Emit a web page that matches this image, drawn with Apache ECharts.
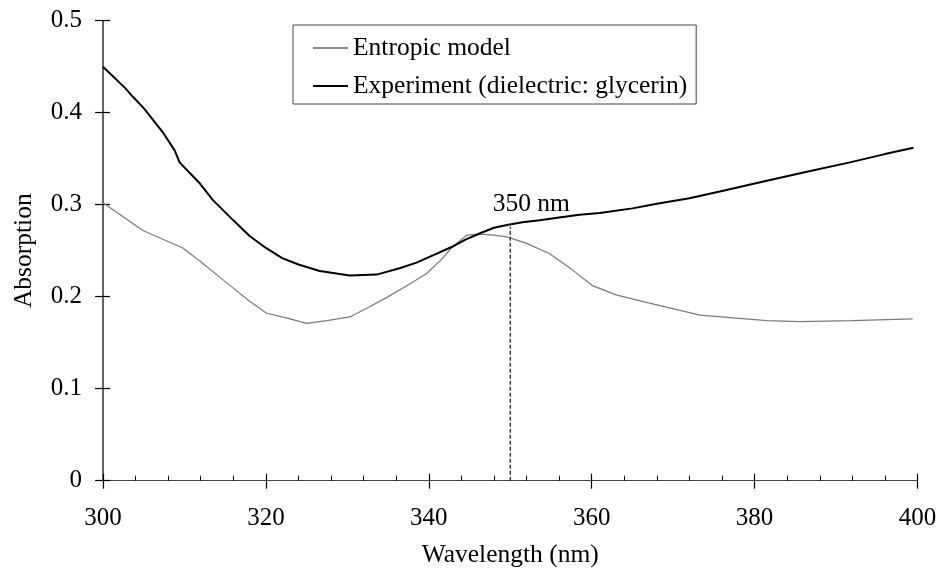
<!DOCTYPE html>
<html>
<head>
<meta charset="utf-8">
<script src="https://cdn.jsdelivr.net/npm/echarts@6/dist/echarts.min.js"></script>
<style>html,body{margin:0;padding:0;background:#fff}#c{width:941px;height:575px}</style>
</head>
<body>
<div id="c"></div>
<script>
// Wavelength (nm) / absorption pairs
var expX = [300, 302.7, 303.7, 305, 307.4, 308.8, 309.4, 311.9, 313.5, 316, 318, 320, 322, 324, 326.6, 330.3, 333.6, 336.4, 338.5, 340.5, 342.8, 344.5, 346.3, 348, 349.6, 351.5, 353.6, 356, 358.5, 361, 365, 368, 372, 376, 381.5, 386, 391.7, 396, 399.5];
var expY = [0.450, 0.427, 0.417, 0.405, 0.378, 0.359, 0.346, 0.323, 0.305, 0.283, 0.266, 0.253, 0.242, 0.235, 0.228, 0.223, 0.224, 0.231, 0.237, 0.245, 0.254, 0.262, 0.269, 0.275, 0.278, 0.281, 0.283, 0.286, 0.289, 0.291, 0.296, 0.301, 0.307, 0.315, 0.326, 0.335, 0.346, 0.355, 0.362];
var modX = [300, 304.9, 309.8, 312, 315.2, 318, 320.1, 322.5, 325, 327.5, 330.3, 332.5, 334.8, 337.5, 339.7, 341.5, 342.9, 344.7, 346.3, 348, 349.6, 352, 354.8, 357.5, 360.1, 363, 367.1, 373.3, 381.5, 385.5, 392, 399.4];
var modY = [0.302, 0.272, 0.253, 0.238, 0.215, 0.195, 0.182, 0.177, 0.171, 0.174, 0.178, 0.188, 0.199, 0.213, 0.225, 0.240, 0.254, 0.267, 0.268, 0.267, 0.265, 0.258, 0.247, 0.230, 0.212, 0.202, 0.193, 0.180, 0.174, 0.173, 0.174, 0.176];
var markerX = 350;
var markerTop = 0.276;
var markerLabel = '350 nm';
var seriesNames = ['Entropic model', 'Experiment (dielectric: glycerin)'];
var xTitle = 'Wavelength (nm)';
var yTitle = 'Absorption';

function pairs(xs, ys) { return xs.map(function (x, i) { return [x, ys[i]]; }); }

var font = 'Liberation Serif';
var axisCol = '#444';
var chart = echarts.init(document.getElementById('c'), null, { renderer: 'canvas' });
chart.setOption({
  animation: false,
  backgroundColor: '#fff',
  grid: { left: 103, right: 23.5, top: 20.7, bottom: 94.3 },
  legend: {
    data: [
      { name: seriesNames[0], icon: 'rect', itemStyle: { color: '#8a8a8a' } },
      { name: seriesNames[1], icon: 'rect', itemStyle: { color: '#000' } }
    ],
    orient: 'vertical',
    left: 293, top: 25,
    padding: [10, 9, 5, 20],
    itemWidth: 35, itemHeight: 2, itemGap: 12,
    borderColor: '#444', borderWidth: 1,
    textStyle: { fontFamily: font, fontSize: 25.5, color: '#000', lineHeight: 26 }
  },
  xAxis: [{
    type: 'value', min: 300, max: 400, interval: 20,
    axisLine: { lineStyle: { color: axisCol, width: 1.2 } },
    axisTick: { inside: false, length: 8, lineStyle: { color: '#000', width: 1.2 } },
    axisLabel: { fontFamily: font, fontSize: 25, color: '#000', margin: 25 },
    splitLine: { show: false },
    name: xTitle, nameLocation: 'middle', nameGap: 62,
    nameTextStyle: { fontFamily: font, fontSize: 25.5, color: '#000' }
  }, {
    type: 'value', min: 300, max: 400, interval: 20, position: 'bottom',
    axisLine: { show: false },
    axisTick: { inside: true, length: 7, lineStyle: { color: '#000', width: 1.2 } },
    minorTick: { show: true, splitNumber: 5, length: 5, lineStyle: { color: '#000', width: 1 } },
    axisLabel: { show: false }, splitLine: { show: false }
  }],
  yAxis: [{
    type: 'value', min: 0, max: 0.5, interval: 0.1,
    axisLine: { show: true, lineStyle: { color: '#555', width: 1.8 } },
    axisTick: { show: true, inside: false, length: 8, lineStyle: { color: '#000', width: 1.2 } },
    axisLabel: { fontFamily: font, fontSize: 25, color: '#000', margin: 21,
      formatter: function (v) { return v === 0 ? '0' : v.toFixed(1); } },
    splitLine: { show: false },
    name: yTitle, nameLocation: 'middle', nameGap: 66,
    nameTextStyle: { fontFamily: font, fontSize: 25.5, color: '#000' }
  }, {
    type: 'value', min: 0, max: 0.5, interval: 0.1, position: 'left',
    axisLine: { show: false },
    axisTick: { show: true, inside: true, length: 7, lineStyle: { color: '#000', width: 1.2 } },
    axisLabel: { show: false }, splitLine: { show: false }
  }],
  series: [{
    name: seriesNames[0], type: 'line', symbol: 'none', smooth: false,
    data: pairs(modX, modY),
    lineStyle: { color: '#7a7a7a', width: 1.2 }, itemStyle: { color: '#7a7a7a' }
  }, {
    name: seriesNames[1], type: 'line', symbol: 'none', smooth: false,
    data: pairs(expX, expY),
    lineStyle: { color: '#000', width: 2 }, itemStyle: { color: '#000' }
  }, {
    name: 'marker', type: 'line', symbol: 'circle', symbolSize: 1, silent: true,
    itemStyle: { color: 'rgba(0,0,0,0)' },
    lineStyle: { color: '#222', width: 1.3, type: [4, 2] },
    data: [[markerX, 0], { value: [markerX, markerTop],
      label: { show: true, position: 'top', offset: [21, -4], formatter: markerLabel,
        fontFamily: font, fontSize: 25.5, color: '#000' } }]
  }]
});
</script>
</body>
</html>
